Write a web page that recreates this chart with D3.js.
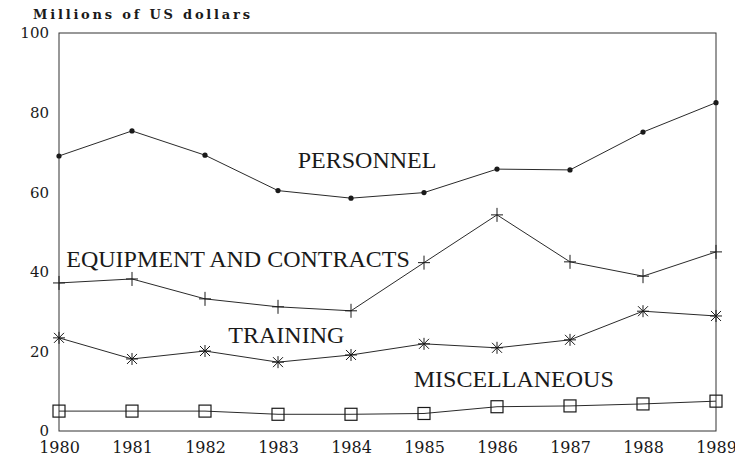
<!DOCTYPE html>
<html>
<head>
<meta charset="utf-8">
<script src="https://cdn.jsdelivr.net/npm/d3@7"></script>
<style>
  body { margin: 0; background: #fff; }
  svg { display: block; }
</style>
</head>
<body>
<script>
// years on the x axis
var annees = [1980, 1981, 1982, 1983, 1984, 1985, 1986, 1987, 1988, 1989];
var ticksY = [0, 20, 40, 60, 80, 100];

// values (millions of US dollars)
var personnel = [69.1, 75.4, 69.3, 60.4, 58.5, 59.9, 65.8, 65.6, 75.1, 82.5];
var equipement = [37.2, 38.2, 33.2, 31.2, 30.2, 42.3, 54.3, 42.5, 38.9, 45.0];
var formation = [23.4, 18.1, 20.1, 17.3, 19.1, 21.9, 20.9, 22.9, 30.1, 28.9];
var divers = [5.0, 5.0, 5.0, 4.2, 4.2, 4.4, 6.1, 6.3, 6.8, 7.5];

var series = [
    {nom: "PERSONNEL", valeurs: personnel, marque: "point", etiquette: [1983.27, 66.1]},
    {nom: "EQUIPMENT AND CONTRACTS", valeurs: equipement, marque: "plus", etiquette: [1980.1, 41.2]},
    {nom: "TRAINING", valeurs: formation, marque: "etoile", etiquette: [1982.32, 22.1]},
    {nom: "MISCELLANEOUS", valeurs: divers, marque: "carre", etiquette: [1984.86, 11.0]}
];

var marges = {top: 33, right: 19, bottom: 28, left: 59};
var largeur = 735 - marges.left - marges.right;
var hauteur = 459 - marges.top - marges.bottom;
var encre = "#1a1a1a";

var svg = d3.select("body").append("svg")
    .attr("width", 735)
    .attr("height", 459);

var canevas = svg.append("g")
    .attr("transform", "translate(" + marges.left + "," + marges.top + ")");

var echelleX = d3.scaleLinear().domain([1980, 1989]).range([0, largeur]);
var echelleY = d3.scaleLinear().domain([0, 100]).range([hauteur, 0]);

// cadre
canevas.append("rect")
    .attr("x", 0).attr("y", 0)
    .attr("width", largeur).attr("height", hauteur)
    .attr("fill", "none")
    .attr("stroke", "#333")
    .attr("stroke-width", 1);

// axe Y
var axeY = canevas.append("g")
    .call(d3.axisLeft(echelleY).tickValues(ticksY).tickSize(0).tickPadding(10));
axeY.select(".domain").remove();
axeY.selectAll("text")
    .attr("font-family", "DejaVu Serif")
    .attr("font-size", 15)
    .attr("fill", encre);

// axe X
var axeX = canevas.append("g")
    .attr("transform", "translate(0," + hauteur + ")")
    .call(d3.axisBottom(echelleX).tickValues(annees).tickFormat(d3.format("d")).tickSize(0).tickPadding(11));
axeX.select(".domain").remove();
axeX.selectAll("text")
    .attr("font-family", "DejaVu Serif")
    .attr("font-size", 16)
    .attr("fill", encre);

// titre de l'axe
svg.append("text")
    .attr("x", 33)
    .attr("y", 19)
    .attr("font-family", "DejaVu Serif")
    .attr("font-weight", "bold")
    .attr("font-size", 13)
    .attr("textLength", 217)
    .attr("lengthAdjust", "spacing")
    .attr("fill", encre)
    .text("Millions of US dollars");

var ligne = d3.line()
    .x(function(d, i) { return echelleX(annees[i]); })
    .y(function(d) { return echelleY(d); });

series.forEach(function(s) {
    canevas.append("path")
        .attr("d", ligne(s.valeurs))
        .attr("fill", "none")
        .attr("stroke", "#2a2a2a")
        .attr("stroke-width", 1);

    var g = canevas.selectAll(".m-" + s.marque).data(s.valeurs).enter()
        .append("g")
        .attr("class", "m-" + s.marque)
        .attr("transform", function(d, i) {
            return "translate(" + echelleX(annees[i]) + "," + echelleY(d) + ")";
        });

    if (s.marque === "point") {
        g.append("circle").attr("r", 2.6).attr("fill", encre);
    } else if (s.marque === "plus") {
        g.append("path").attr("d", "M-6,0H6M0,-7V7")
            .attr("stroke", encre).attr("stroke-width", 1).attr("fill", "none");
    } else if (s.marque === "etoile") {
        g.append("path").attr("d", "M-6,0H6M0,-6V6M-5,-5L5,5M-5,5L5,-5")
            .attr("stroke", encre).attr("stroke-width", 1).attr("fill", "none");
    } else {
        g.append("rect").attr("x", -6).attr("y", -6).attr("width", 12).attr("height", 12)
            .attr("fill", "none").attr("stroke", encre).attr("stroke-width", 1.2);
    }

    canevas.append("text")
        .attr("x", echelleX(s.etiquette[0]))
        .attr("y", echelleY(s.etiquette[1]))
        .attr("font-family", "Liberation Serif")
        .attr("font-size", 24)
        .attr("fill", encre)
        .text(s.nom);
});
</script>
</body>
</html>
